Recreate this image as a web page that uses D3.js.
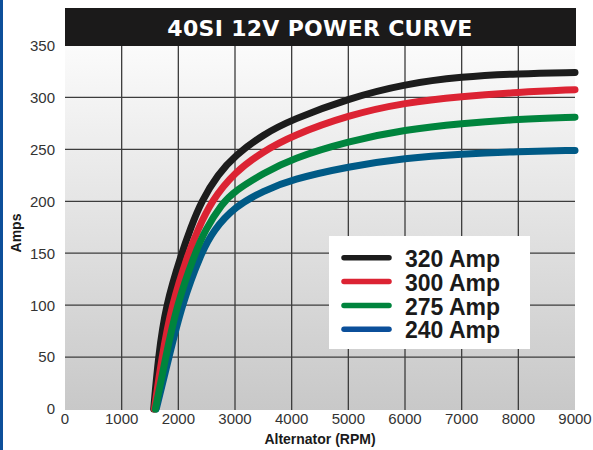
<!DOCTYPE html>
<html>
<head>
<meta charset="utf-8">
<script src="https://cdn.jsdelivr.net/npm/d3@7"></script>
<style>
  html, body { margin: 0; padding: 0; background: #ffffff; }
  svg { display: block; }
</style>
</head>
<body>
<script>
// ---- data ----
const titleText = "40SI 12V POWER CURVE";
const xTicks = [0, 1000, 2000, 3000, 4000, 5000, 6000, 7000, 8000, 9000];
const yTicks = [0, 50, 100, 150, 200, 250, 300, 350];
const seriesNames = ["320 Amp", "300 Amp", "275 Amp", "240 Amp"];
const seriesColors = ["#1c1c1c", "#dc2333", "#00843d", "#005a86"];
const legendColors = ["#1c1c1c", "#dc2333", "#00843d", "#0b4f9a"];
const amp320 = [[1565,0],[1647,50],[1777,100],[2059,150],[2215,174],[2406,200],[2700,226],[3000,244],[3500,264.5],[4000,278.5],[5000,299],[6000,313],[7000,320],[8000,323],[9000,324]];
const amp300 = [[1578,0],[1710,50],[1882,100],[2176,150],[2340,172],[2580,200],[3000,228.5],[3500,248],[4000,263],[5000,283],[6000,295],[7000,301],[8000,305],[9000,307.5]];
const amp275 = [[1595,0],[1777,50],[1971,100],[2294,150],[2470,172],[2770,198],[3000,210],[3500,227],[4000,241],[5000,258],[6000,269],[7000,275],[8000,279],[9000,281]];
const amp240 = [[1610,0],[1835,50],[2059,100],[2400,150],[2618,172],[3000,195],[3500,210],[4000,221],[5000,233.5],[6000,241.6],[7000,245.7],[8000,248],[9000,249]];
const seriesData = [amp320, amp300, amp275, amp240];
const drawOrder = [3, 0, 1, 2];

const W = 593, H = 450;
const svg = d3.select("body").append("svg").attr("width", W).attr("height", H);

const x = d3.scaleLinear().domain([0, 9000]).range([65, 575]);
const y = d3.scaleLinear().domain([0, 350]).range([409, 45.5]);

// left blue stripe
svg.append("rect").attr("x", 0).attr("y", 0).attr("width", 3).attr("height", H).attr("fill", "#0d4f9a");

// background gradient
const defs = svg.append("defs");
const grad = defs.append("linearGradient").attr("id", "bg").attr("x1", 0).attr("y1", 0).attr("x2", 0).attr("y2", 1);
grad.append("stop").attr("offset", "0%").attr("stop-color", "#fbfbfb");
grad.append("stop").attr("offset", "100%").attr("stop-color", "#c8c8c8");

svg.append("rect")
  .attr("x", x(0)).attr("y", y(350))
  .attr("width", x(9000) - x(0)).attr("height", y(0) - y(350) + 1)
  .attr("fill", "url(#bg)");

// gridlines
const g = svg.append("g");
g.selectAll("line.v").data(xTicks.filter(d => d > 0 && d < 9000)).enter().append("line")
  .attr("x1", d => x(d)).attr("x2", d => x(d))
  .attr("y1", y(350)).attr("y2", y(0) + 1)
  .attr("stroke", "#3c3c3c").attr("stroke-width", 1.3);
g.selectAll("line.h").data(yTicks.filter(d => d > 0 && d < 350)).enter().append("line")
  .attr("x1", x(0)).attr("x2", x(9000))
  .attr("y1", d => y(d)).attr("y2", d => y(d))
  .attr("stroke", "#3c3c3c").attr("stroke-width", 1.3);

// title banner
svg.append("rect").attr("x", 65).attr("y", 8).attr("width", 511).attr("height", 38).attr("fill", "#1b1a1a");
svg.append("text").attr("x", 320).attr("y", 35.5)
  .attr("text-anchor", "middle")
  .attr("fill", "#ffffff")
  .style("font-family", "'DejaVu Sans', sans-serif")
  .style("font-weight", "bold")
  .style("font-size", "22px")
  .style("letter-spacing", "0.3px")
  .text(titleText);

// axes tick labels
const tickFont = "'Liberation Sans', Arial, sans-serif";
svg.append("g").selectAll("text").data(yTicks).enter().append("text")
  .attr("x", 55).attr("y", d => y(d)).attr("dy", "0.36em")
  .attr("text-anchor", "end")
  .attr("fill", "#333")
  .style("font-family", tickFont).style("font-size", "15px")
  .text(d => d);
svg.append("g").selectAll("text").data(xTicks).enter().append("text")
  .attr("x", d => x(d)).attr("y", 424)
  .attr("text-anchor", "middle")
  .attr("fill", "#333")
  .style("font-family", tickFont).style("font-size", "15px")
  .text(d => d);

// axis titles
svg.append("text").attr("x", 320).attr("y", 444)
  .attr("text-anchor", "middle").attr("fill", "#1a1a1a")
  .style("font-family", tickFont).style("font-weight", "bold").style("font-size", "14px")
  .text("Alternator (RPM)");
svg.append("text").attr("transform", "translate(21,233) rotate(-90)")
  .attr("text-anchor", "middle").attr("fill", "#1a1a1a")
  .style("font-family", tickFont).style("font-weight", "bold").style("font-size", "14px")
  .text("Amps");

// curves
const line = d3.line().x(d => x(d[0])).y(d => y(d[1])).curve(d3.curveBasis);
svg.append("g").selectAll("path").data(drawOrder).enter().append("path")
  .attr("d", i => line(seriesData[i]))
  .attr("fill", "none")
  .attr("stroke", i => seriesColors[i])
  .attr("stroke-width", 7)
  .attr("stroke-linecap", "round")
  .attr("stroke-linejoin", "round");

// legend
const lg = svg.append("g");
lg.append("rect").attr("x", 329).attr("y", 236).attr("width", 201).attr("height", 113).attr("fill", "#ffffff");
const rowY = [257.7, 281.5, 305.5, 329.3];
lg.selectAll("line").data(seriesNames).enter().append("line")
  .attr("x1", 344).attr("x2", 389)
  .attr("y1", (d, i) => rowY[i]).attr("y2", (d, i) => rowY[i])
  .attr("stroke", (d, i) => legendColors[i])
  .attr("stroke-width", 5.5).attr("stroke-linecap", "round");
lg.selectAll("text").data(seriesNames).enter().append("text")
  .attr("x", 405).attr("y", (d, i) => rowY[i] + 9)
  .attr("fill", "#1a1a1a")
  .style("font-family", tickFont).style("font-weight", "bold").style("font-size", "23px")
  .text(d => d);
</script>
</body>
</html>
